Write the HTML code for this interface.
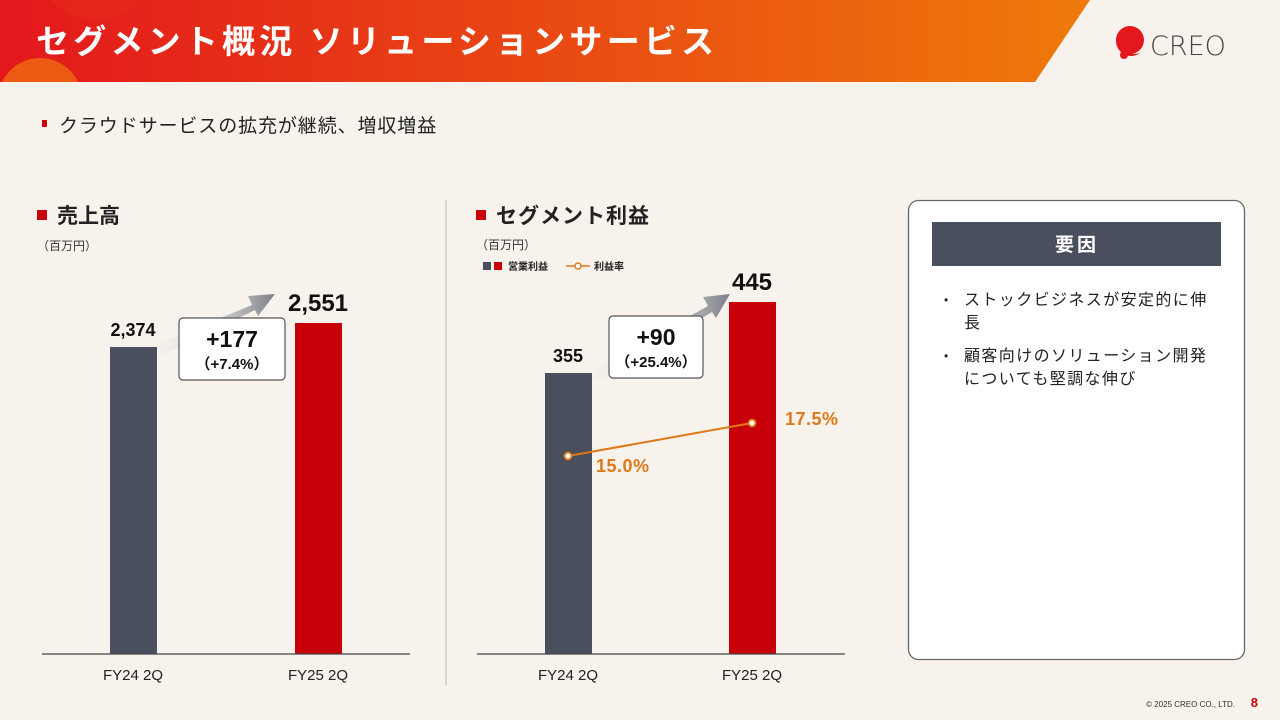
<!DOCTYPE html>
<html><head><meta charset="utf-8">
<style>
body{margin:0;width:1280px;height:720px;overflow:hidden;background:#f7f2ec;font-family:"Liberation Sans","Noto Sans CJK JP",sans-serif;}
.abs{position:absolute}
</style></head><body>
<svg class="abs" style="left:0;top:0" width="1280" height="720" xmlns="http://www.w3.org/2000/svg">
<defs>
<linearGradient id="hg" x1="0" x2="1" y1="0" y2="0"><stop offset="0" stop-color="#e3171c"/><stop offset="1" stop-color="#ef7a0a"/></linearGradient>
<linearGradient id="ag" x1="0" x2="1" y1="0" y2="0"><stop offset="0" stop-color="#eeeae6" stop-opacity="0.2"/><stop offset="1" stop-color="#7d808a"/></linearGradient>
<clipPath id="hc"><polygon points="0,0 1090,0 1035,82 0,82"/></clipPath>
</defs>
<polygon points="0,0 1090,0 1035,82 0,82" fill="url(#hg)"/>
<g clip-path="url(#hc)">
<circle cx="40" cy="100" r="42" fill="#ee6a12" opacity="0.8"/>
<circle cx="95" cy="-40" r="60" fill="#e8301a" opacity="0.35"/>
</g>
<text x="36" y="53" font-size="33" font-weight="bold" fill="#fff" letter-spacing="4.2" font-family="Liberation Sans,Noto Sans CJK JP,sans-serif">セグメント概況 ソリューションサービス</text>
<path d="M1130,26 a15,15 0 1,0 10,27 a9,9 0 0,1 -10,-27z" fill="#e3171c"/>
<circle cx="1130" cy="40" r="14" fill="#e3171c"/>
<circle cx="1124" cy="55" r="4" fill="#e3171c"/>
<text x="1150" y="55" font-size="27" fill="#444" font-family="DejaVu Sans,sans-serif" font-weight="300">CREO</text>
<rect x="42" y="120" width="5" height="7" fill="#c8000a"/>
<text x="59" y="132" font-size="19" fill="#222" letter-spacing="0.9" font-family="Liberation Sans,Noto Sans CJK JP,sans-serif">クラウドサービスの拡充が継続、増収増益</text>
<!-- left chart -->
<rect x="37" y="210" width="10" height="10" fill="#c8000a"/>
<text x="57" y="223" font-size="21" font-weight="bold" fill="#222" font-family="Liberation Sans,Noto Sans CJK JP,sans-serif">売上高</text>
<text x="37" y="250" font-size="12" fill="#333" font-family="Liberation Sans,Noto Sans CJK JP,sans-serif">（百万円）</text>
<polygon points="157,344 252,305 248,296 275,294 258,316 255,310 160,356" fill="url(#ag)"/>
<rect x="110" y="347" width="47" height="307" fill="#4a4f5e"/>
<rect x="295" y="323" width="47" height="331" fill="#c8000a"/>
<line x1="42" y1="654" x2="410" y2="654" stroke="#444" stroke-width="1.2"/>
<text x="133" y="336" font-size="18" font-weight="bold" text-anchor="middle" fill="#111">2,374</text>
<text x="318" y="311" font-size="24" font-weight="bold" text-anchor="middle" fill="#111">2,551</text>
<rect x="179" y="318" width="106" height="62" rx="4" fill="#fff" stroke="#555" stroke-width="1.2"/>
<text x="232" y="347" font-size="23" font-weight="bold" text-anchor="middle" fill="#111">+177</text>
<text x="232" y="369" font-size="15" font-weight="bold" text-anchor="middle" fill="#111" font-family="Liberation Sans,Noto Sans CJK JP,sans-serif">（+7.4%）</text>
<text x="133" y="680" font-size="15" text-anchor="middle" fill="#222">FY24 2Q</text>
<text x="318" y="680" font-size="15" text-anchor="middle" fill="#222">FY25 2Q</text>
<line x1="446" y1="200" x2="446" y2="685" stroke="#ccc" stroke-width="1.5"/>
<!-- right chart -->
<rect x="476" y="210" width="10" height="10" fill="#c8000a"/>
<text x="496" y="223" font-size="21" font-weight="bold" fill="#222" letter-spacing="1" font-family="Liberation Sans,Noto Sans CJK JP,sans-serif">セグメント利益</text>
<text x="476" y="249" font-size="12" fill="#333" font-family="Liberation Sans,Noto Sans CJK JP,sans-serif">（百万円）</text>
<rect x="483" y="262" width="8" height="8" fill="#4a4f5e"/>
<rect x="494" y="262" width="8" height="8" fill="#c8000a"/>
<text x="508" y="270" font-size="10" font-weight="bold" fill="#222" font-family="Liberation Sans,Noto Sans CJK JP,sans-serif">営業利益</text>
<line x1="566" y1="266" x2="590" y2="266" stroke="#e07818" stroke-width="1.5"/>
<circle cx="578" cy="266" r="3" fill="#fff" stroke="#e07818" stroke-width="1.5"/>
<text x="594" y="270" font-size="10" font-weight="bold" fill="#222" font-family="Liberation Sans,Noto Sans CJK JP,sans-serif">利益率</text>
<polygon points="592,370 708,306 703,297 730,294 716,318 712,312 595,383" fill="url(#ag)"/>
<rect x="545" y="373" width="47" height="281" fill="#4a4f5e"/>
<rect x="729" y="302" width="47" height="352" fill="#c8000a"/>
<line x1="477" y1="654" x2="845" y2="654" stroke="#444" stroke-width="1.2"/>
<line x1="568" y1="456" x2="752" y2="423" stroke="#e07818" stroke-width="2"/>
<circle cx="568" cy="456" r="3.5" fill="#fff" stroke="#e07818" stroke-width="1.8"/>
<circle cx="752" cy="423" r="3.5" fill="#fff" stroke="#e07818" stroke-width="1.8"/>
<text x="568" y="362" font-size="18" font-weight="bold" text-anchor="middle" fill="#111">355</text>
<text x="752" y="290" font-size="24" font-weight="bold" text-anchor="middle" fill="#111">445</text>
<rect x="609" y="316" width="94" height="62" rx="4" fill="#fff" stroke="#555" stroke-width="1.2"/>
<text x="656" y="345" font-size="23" font-weight="bold" text-anchor="middle" fill="#111">+90</text>
<text x="656" y="367" font-size="15" font-weight="bold" text-anchor="middle" fill="#111" font-family="Liberation Sans,Noto Sans CJK JP,sans-serif">（+25.4%）</text>
<text x="596" y="472" font-size="18" font-weight="bold" fill="#e07818" letter-spacing="0.5">15.0%</text>
<text x="785" y="425" font-size="18" font-weight="bold" fill="#e07818" letter-spacing="0.5">17.5%</text>
<text x="568" y="680" font-size="15" text-anchor="middle" fill="#222">FY24 2Q</text>
<text x="752" y="680" font-size="15" text-anchor="middle" fill="#222">FY25 2Q</text>
<!-- right panel -->
<rect x="908.5" y="200.5" width="336" height="459" rx="10" fill="#fff" stroke="#666" stroke-width="1.3"/>
<rect x="932" y="222" width="289" height="44" fill="#4a4f5e"/>
<text x="1077" y="251" font-size="19" font-weight="bold" text-anchor="middle" fill="#fff" letter-spacing="3" font-family="Liberation Sans,Noto Sans CJK JP,sans-serif">要因</text>
<g font-size="16" fill="#222" letter-spacing="1.4" font-family="Liberation Sans,Noto Sans CJK JP,sans-serif">
<text x="944" y="304" font-size="12">•</text>
<text x="964" y="305">ストックビジネスが安定的に伸</text>
<text x="964" y="328">長</text>
<text x="944" y="360" font-size="12">•</text>
<text x="964" y="361">顧客向けのソリューション開発</text>
<text x="964" y="384">についても堅調な伸び</text>
</g>
<text x="1235" y="707" font-size="8" text-anchor="end" fill="#333">© 2025 CREO CO., LTD.</text>
<text x="1258" y="707" font-size="13" font-weight="bold" text-anchor="end" fill="#c8000a">8</text>
</svg>
</body></html>
